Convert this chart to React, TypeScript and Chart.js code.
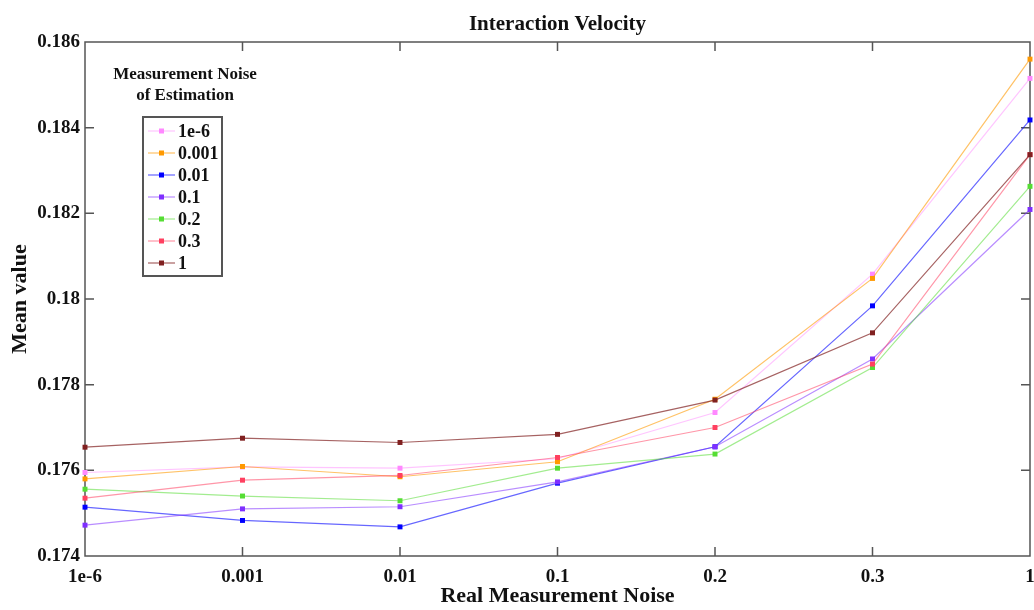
import React, { useEffect, useRef } from "react";
import { Chart, registerables } from "chart.js";

Chart.register(...registerables);

const categories = ["1e-6", "0.001", "0.01", "0.1", "0.2", "0.3", "1"];
const seriesLabels = ["1e-6", "0.001", "0.01", "0.1", "0.2", "0.3", "1"];
const s1e6 = [0.17595, 0.17608, 0.17605, 0.17627, 0.17735, 0.18058, 0.18515];
const s0001 = [0.1758, 0.17609, 0.17585, 0.1762, 0.17766, 0.18048, 0.1856];
const s001 = [0.17514, 0.17483, 0.17468, 0.1757, 0.17655, 0.17984, 0.18418];
const s01 = [0.17472, 0.1751, 0.17515, 0.17573, 0.17655, 0.1786, 0.18209];
const s02 = [0.17556, 0.1754, 0.17529, 0.17605, 0.17638, 0.1784, 0.18263];
const s03 = [0.17535, 0.17577, 0.17588, 0.1763, 0.177, 0.17848, 0.18337];
const s1 = [0.17654, 0.17675, 0.17665, 0.17684, 0.17764, 0.17921, 0.18337];
const seriesValues = [s1e6, s0001, s001, s01, s02, s03, s1];
const yTicks = [0.174, 0.176, 0.178, 0.18, 0.182, 0.184, 0.186];

const markerColors = ["#ff88ff", "#ff9900", "#0000ff", "#7f2fff", "#55dd33", "#ff4060", "#802020"];
const lineColors = [
  "rgba(255,150,255,0.55)",
  "rgba(255,153,0,0.6)",
  "rgba(0,0,255,0.6)",
  "rgba(127,47,255,0.55)",
  "rgba(85,221,51,0.55)",
  "rgba(255,64,96,0.55)",
  "rgba(128,32,32,0.7)",
];

const FONT = "'Liberation Serif', 'Times New Roman', serif";
const AXIS_COLOR = "#555555";

const framePlugin = {
  id: "frame",
  beforeDatasetsDraw(chart: any) {
    const { ctx, chartArea } = chart;
    const { left, right, top, bottom } = chartArea;
    const xs = chart.scales.x;
    const ys = chart.scales.y;
    ctx.save();
    ctx.strokeStyle = AXIS_COLOR;
    ctx.lineWidth = 1.5;
    ctx.strokeRect(left, top, right - left, bottom - top);
    const tl = 9;
    ctx.beginPath();
    for (let i = 1; i < categories.length - 1; i++) {
      const px = xs.getPixelForValue(i);
      ctx.moveTo(px, bottom);
      ctx.lineTo(px, bottom - tl);
      ctx.moveTo(px, top);
      ctx.lineTo(px, top + tl);
    }
    for (let i = 1; i < yTicks.length - 1; i++) {
      const py = ys.getPixelForValue(yTicks[i]);
      ctx.moveTo(left, py);
      ctx.lineTo(left + tl, py);
      ctx.moveTo(right, py);
      ctx.lineTo(right - tl, py);
    }
    ctx.stroke();
    ctx.restore();
  },
  afterDraw(chart: any) {
    const { ctx, chartArea } = chart;
    ctx.save();
    // title
    ctx.fillStyle = "#111";
    ctx.font = `bold 21px ${FONT}`;
    ctx.textAlign = "center";
    ctx.textBaseline = "middle";
    ctx.fillText("Interaction Velocity", (chartArea.left + chartArea.right) / 2, 25);
    // legend title
    ctx.font = `bold 17px ${FONT}`;
    ctx.fillText("Measurement Noise", 185, 75);
    ctx.fillText("of Estimation", 185, 96);
    // legend box
    const bx = 143, by = 117, bw = 79, bh = 159;
    ctx.fillStyle = "#ffffff";
    ctx.fillRect(bx, by, bw, bh);
    ctx.strokeStyle = AXIS_COLOR;
    ctx.lineWidth = 2;
    ctx.strokeRect(bx, by, bw, bh);
    ctx.textAlign = "left";
    ctx.font = `bold 18px ${FONT}`;
    chart.data.datasets.forEach((ds: any, i: number) => {
      const y = 131 + i * 22;
      ctx.strokeStyle = ds.borderColor;
      ctx.lineWidth = 1.2;
      ctx.beginPath();
      ctx.moveTo(148, y);
      ctx.lineTo(175, y);
      ctx.stroke();
      ctx.fillStyle = ds.pointBackgroundColor;
      ctx.fillRect(159, y - 2.5, 5, 5);
      ctx.fillStyle = "#111";
      ctx.fillText(ds.label, 178, y + 1);
    });
    ctx.restore();
  },
};

export default function App() {
  const canvasRef = useRef<HTMLCanvasElement | null>(null);

  useEffect(() => {
    if (!canvasRef.current) return;
    const datasets = seriesValues.map((vals, i) => ({
      label: seriesLabels[i],
      data: vals,
      borderColor: lineColors[i],
      backgroundColor: markerColors[i],
      pointBackgroundColor: markerColors[i],
      pointBorderColor: markerColors[i],
      pointBorderWidth: 0,
      pointStyle: "rect" as const,
      pointRadius: 3.5,
      borderWidth: 1.2,
      tension: 0,
      fill: false,
      clip: false as any,
      order: seriesLabels.length - i,
    }));
    const chart = new Chart(canvasRef.current, {
      type: "line",
      data: { labels: categories, datasets },
      plugins: [framePlugin],
      options: {
        animation: false,
        responsive: false,
        events: [],
        layout: { padding: { top: 42, right: 4, left: 0, bottom: 0 } },
        plugins: {
          legend: { display: false },
          title: { display: false },
          tooltip: { enabled: false },
        },
        scales: {
          x: {
            type: "category",
            offset: false,
            grid: { display: false, drawTicks: false },
            border: { display: false },
            ticks: {
              color: "#111",
              font: { family: FONT, size: 19, weight: "bold" },
              padding: 10,
              maxRotation: 0,
              autoSkip: false,
            },
            title: {
              display: true,
              text: "Real Measurement Noise",
              color: "#111",
              font: { family: FONT, size: 22, weight: "bold" },
              padding: { top: 0, bottom: 0 },
            },
            afterFit(scale: any) {
              scale.height = 54;
              scale.paddingLeft = 0;
              scale.paddingRight = 0;
            },
          },
          y: {
            type: "linear",
            min: yTicks[0],
            max: yTicks[yTicks.length - 1],
            grid: { display: false, drawTicks: false },
            border: { display: false },
            afterBuildTicks(scale: any) {
              scale.ticks = yTicks.map((v) => ({ value: v }));
            },
            ticks: {
              color: "#111",
              font: { family: FONT, size: 19, weight: "bold" },
              padding: 5,
              callback: (v: any) => String(Number(Number(v).toFixed(3))),
            },
            title: {
              display: true,
              text: "Mean value",
              color: "#111",
              font: { family: FONT, size: 22, weight: "bold" },
              padding: { top: 7, bottom: 0 },
            },
            afterFit(scale: any) {
              scale.width = 85;
              scale.paddingTop = 0;
              scale.paddingBottom = 0;
            },
          },
        },
      },
    });
    return () => chart.destroy();
  }, []);

  return (
    <div style={{ position: "absolute", left: 0, top: 0, width: 1034, height: 610, background: "#fff" }}>
      <canvas ref={canvasRef} width={1034} height={610} style={{ display: "block" }} />
    </div>
  );
}
